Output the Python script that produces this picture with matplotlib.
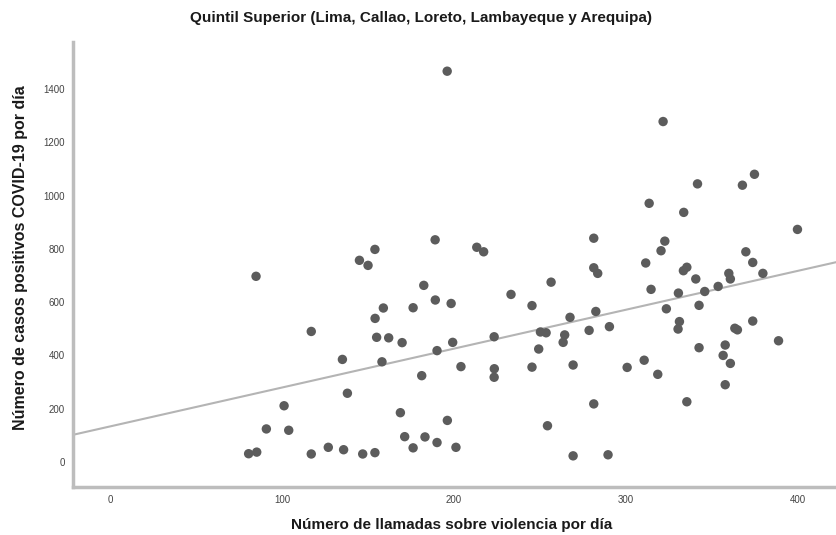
import matplotlib.pyplot as plt
import numpy as np

plt.rcParams['font.family'] = ['Liberation Sans', 'DejaVu Sans']

# llamadas por dia (x) y casos positivos por dia (y)
llamadas = [196, 189, 154, 145, 150, 321.5, 341.5, 367.6, 374.6, 313.4,
            333.5, 399.6, 213.2, 217.2, 281.2, 322.5, 320.3, 369.6, 311.4, 373.6,
            281.2, 283.5, 335.3, 333.3, 379.5, 359.7, 360.6, 340.5, 256.4, 233.1,
            314.5, 345.7, 353.5, 330.4, 198.3, 245.3, 342.4, 323.4, 267.4, 282.4,
            331, 330.2, 373.6, 250.2, 253.5, 264.3, 263.4, 278.5, 290.3, 363.2,
            364.7, 223.3, 199.2, 190.1, 249.2, 342.4, 357.6, 388.6, 356.4, 360.6,
            204, 223.4, 223.3, 245.3, 269.2, 300.6, 310.5, 318.4, 357.6, 335.3,
            281.2, 196.1, 254.3, 190.1, 201.1, 269.2, 289.5,
            84.9, 182.4, 189.1, 176.2, 158.9, 154.1, 117, 155, 162, 169.8,
            135.1, 158.1, 181.2, 138, 101.2, 168.8, 90.9, 103.9, 171.3, 183.1,
            176.2, 126.9, 135.8, 80.6, 85.3, 117, 146.9, 154]
casos = [1467, 834, 798, 757, 738, 1278, 1044, 1039, 1080, 971,
         937, 873, 806, 789, 840, 829, 793, 789, 747, 749,
         729, 708, 731, 718, 708, 708, 687, 687, 675, 629,
         648, 640, 659, 634, 595, 587, 588, 575, 543, 565,
         527, 499, 529, 488, 485, 477, 449, 494, 508, 502,
         496, 470, 449, 418, 424, 429, 439, 455, 400, 370,
         358, 350, 318, 356, 364, 355, 382, 329, 290, 226,
         218, 156, 136, 73, 55, 23, 27,
         697, 663, 608, 579, 578, 539, 490, 468, 466, 448,
         385, 376, 324, 258, 211, 185, 124, 119, 95, 94,
         53, 55, 46, 31, 37, 30, 30, 35]

x = np.array(llamadas)
y = np.array(casos)

fig = plt.figure(figsize=(8.36, 5.35), dpi=100)
ax = fig.add_axes([0.0873, 0.0897, 0.9127, 0.8315])

ax.scatter(x, y, s=46, color='#5c5c5c', edgecolors='none', zorder=3)

# recta de ajuste lineal
m, b = np.polyfit(x, y, 1)
xx = np.array([-25, 430])
ax.plot(xx, m * xx + b, color='#b4b4b4', linewidth=1.5, zorder=2)

ax.set_xlim(-21.5, 422)
ax.set_ylim(-94, 1576)
ax.set_xticks([0, 100, 200, 300, 400])
ax.set_yticks(range(0, 1401, 200))
ax.tick_params(length=0, labelsize=7, colors='#444444', pad=6)

for s in ['top', 'right']:
    ax.spines[s].set_visible(False)
for s in ['left', 'bottom']:
    ax.spines[s].set_color('#bdbdbd')
    ax.spines[s].set_linewidth(2.5)

fig.text(0.540, 0.019, 'Número de llamadas sobre violencia por día', fontsize=11,
         fontweight='bold', color='#1a1a1a', ha='center', va='center')
fig.text(0.024, 0.518, 'Número de casos positivos COVID-19 por día', fontsize=11.5,
         fontweight='bold', color='#1a1a1a', ha='center', va='center', rotation=90)
fig.text(0.504, 0.966, 'Quintil Superior (Lima, Callao, Loreto, Lambayeque y Arequipa)',
         ha='center', va='center', fontsize=11, fontweight='bold', color='#1a1a1a')

fig.savefig('out.png', dpi=100)
